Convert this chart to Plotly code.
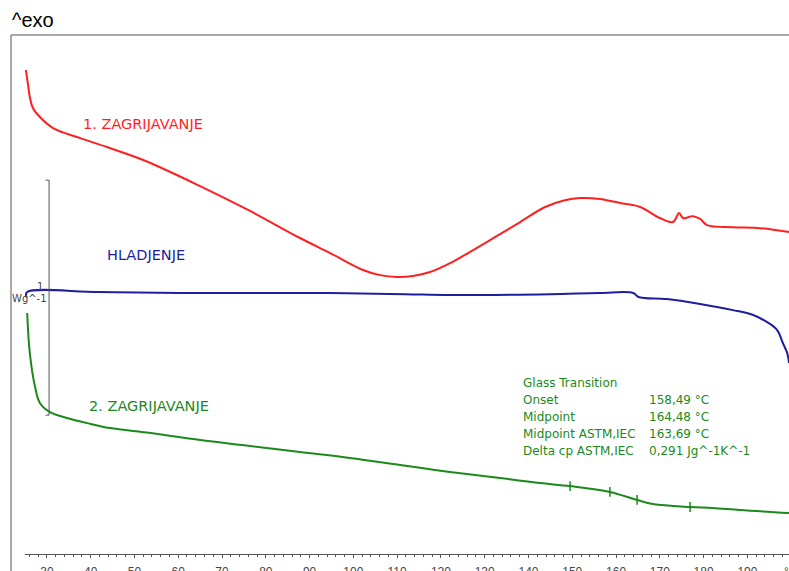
import plotly.graph_objects as go

# ---------------- data ----------------
# 1st heating (red): temperature °C, heat flow W/g (arbitrary offset)
heat1_T = [25.2, 25.7, 26.1, 26.8, 28.4, 31.4, 37.6, 43.7, 52.0, 65.0, 76.4, 87.8, 94.7,
           102.2, 106.1, 110.0, 113.6, 117.5, 122.1, 126.2, 131.2, 138.1, 143.8, 148.3, 151.8,
           156.3, 160.9, 165.5, 170.0, 173.0, 174.4, 175.3, 177.6, 179.2, 180.8, 186.7, 192.9, 199.5]
heat1_W = [2.060, 1.996, 1.945, 1.898, 1.860, 1.813, 1.770, 1.732, 1.677, 1.566, 1.460, 1.345,
           1.281, 1.209, 1.187, 1.179, 1.183, 1.200, 1.238, 1.281, 1.336, 1.413, 1.477,
           1.506, 1.515, 1.511, 1.494, 1.477, 1.430, 1.413, 1.451, 1.430, 1.438, 1.426, 1.400,
           1.391, 1.387, 1.370]

# cooling (blue)
cool_T = [25.2, 25.5, 41.7, 60.4, 94.7, 111.8, 122.1, 144.9, 156.3, 163.9, 165.1, 171.6,
          179.2, 186.7, 191.3, 194.5, 196.8, 198.1, 199.1, 199.5]
cool_W = [1.094, 1.115, 1.115, 1.111, 1.111, 1.106, 1.102, 1.106, 1.111, 1.111, 1.094, 1.085,
          1.064, 1.038, 1.017, 0.987, 0.953, 0.898, 0.855, 0.813]

# 2nd heating (green)
heat2_T = [25.5, 26.1, 27.3, 28.4, 30.7, 34.6, 39.2, 44.4, 53.6, 65.0, 76.4, 87.8, 99.2, 110.7,
           122.1, 133.5, 142.6, 149.5, 158.6, 164.8, 168.4, 176.9, 182.1, 188.3, 199.5]
heat2_W = [1.026, 0.855, 0.711, 0.643, 0.604, 0.579, 0.557, 0.536, 0.515, 0.485, 0.460, 0.434,
           0.409, 0.379, 0.349, 0.323, 0.302, 0.289, 0.264, 0.230, 0.213, 0.200, 0.196, 0.187,
           0.174]

# glass-transition evaluation markers on the 2nd heating curve
gt_mark_T = [149.5, 158.6, 164.8, 176.9]
gt_mark_W = [0.289, 0.264, 0.230, 0.200]

# scale bar: 1 W/g
scale_T = 30.5
scale_W = [0.591, 1.591]

x_major_ticks = [30, 40, 50, 60, 70, 80, 90, 100, 110, 120, 130, 140, 150, 160, 170, 180, 190]
x_range = [25, 199.5]
y_range = [0, 2.209]

gt_labels = ["Glass Transition", "Onset", "Midpoint", "Midpoint ASTM,IEC", "Delta cp ASTM,IEC"]
gt_values = ["", "158,49 °C", "164,48 °C", "163,69 °C", "0,291 Jg^-1K^-1"]

# ---------------- layout helpers ----------------
W, H = 789, 571
ML, MR, MT, MB = 25, 0, 35, 17
PW, PH = W - ML - MR, H - MT - MB


def px(x):
    """screen x pixel -> paper coordinate"""
    return (x - ML) / PW


def py(y):
    """screen y pixel -> paper coordinate"""
    return (H - MB - y) / PH


RED = "#ff1f1f"
BLUE = "#1e1e9e"
GREEN = "#1b8a1b"
TXT_FONT = "DejaVu Sans, Verdana, sans-serif"
AX_FONT = "Liberation Sans, Arial, sans-serif"

fig = go.Figure()
fig.add_trace(go.Scatter(x=heat1_T, y=heat1_W, mode="lines",
                         line=dict(color=RED, width=2), line_shape="spline"))
fig.add_trace(go.Scatter(x=cool_T, y=cool_W, mode="lines",
                         line=dict(color=BLUE, width=2), line_shape="spline"))
fig.add_trace(go.Scatter(x=heat2_T, y=heat2_W, mode="lines",
                         line=dict(color=GREEN, width=2), line_shape="spline"))
fig.add_trace(go.Scatter(x=gt_mark_T, y=gt_mark_W, mode="markers",
                         marker=dict(symbol="line-ns", size=7,
                                     line=dict(color=GREEN, width=1.5))))

shapes = [
    # frame (top and left)
    dict(type="line", xref="paper", yref="paper", x0=px(11), x1=px(800), y0=py(35), y1=py(35),
         line=dict(color="#8c8c8c", width=1.5)),
    dict(type="line", xref="paper", yref="paper", x0=px(11), x1=px(11), y0=py(35), y1=py(580),
         line=dict(color="#8c8c8c", width=1.5)),
    # scale bar
    dict(type="line", xref="x", yref="y", x0=scale_T, x1=scale_T, y0=scale_W[0], y1=scale_W[1],
         line=dict(color="#555555", width=1)),
    dict(type="line", xref="x", yref="y", x0=scale_T - 0.8, x1=scale_T, y0=scale_W[0], y1=scale_W[0],
         line=dict(color="#555555", width=1)),
    dict(type="line", xref="x", yref="y", x0=scale_T - 0.8, x1=scale_T, y0=scale_W[1], y1=scale_W[1],
         line=dict(color="#555555", width=1)),
]

ann = []


def text(x, y, s, color, size, font=TXT_FONT, anchor="left"):
    ann.append(dict(xref="paper", yref="paper", x=px(x), y=py(y), text=s, showarrow=False,
                    xanchor=anchor, yanchor="middle", font=dict(color=color, size=size, family=font)))


text(10, 20, "^exo", "#000000", 20, font=AX_FONT)
text(81, 124, "1. ZAGRIJAVANJE", RED, 14.5)
text(105, 255, "HLADJENJE", BLUE, 14.5)
text(87, 406, "2. ZAGRIJAVANJE", GREEN, 14.5)
text(40, 286, "1", "#444444", 10, anchor="center")
text(10, 298, "Wg^-1", "#444444", 10)
for i, (lab, val) in enumerate(zip(gt_labels, gt_values)):
    yy = 383 + 17 * i
    text(521, yy, lab, GREEN, 12)
    if val:
        text(647, yy, val, GREEN, 12)
ann.append(dict(xref="paper", yref="paper", x=px(791), y=0, yanchor="top", yshift=-9,
                xanchor="center", text="°C", showarrow=False,
                font=dict(color="#444444", size=12, family=AX_FONT)))

fig.update_layout(
    width=W, height=H,
    margin=dict(l=ML, r=MR, t=MT, b=MB, autoexpand=False),
    paper_bgcolor="white", plot_bgcolor="white",
    showlegend=False,
    shapes=shapes, annotations=ann,
    xaxis=dict(range=x_range, showgrid=False, zeroline=False, showline=True, automargin=False,
               linecolor="#555555", linewidth=1, ticks="outside", ticklen=3,
               tickcolor="#555555", tickvals=x_major_ticks, ticklabelstandoff=4,
               tickfont=dict(family=AX_FONT, size=12, color="#444444"),
               minor=dict(dtick=2, tick0=0, ticks="outside", ticklen=2, tickcolor="#555555")),
    yaxis=dict(range=y_range, visible=False, showgrid=False, zeroline=False, automargin=False),
)

# remove the browser's default body margin so the 789x571 figure fills the window exactly
fig.write_html("out.html", config={"displayModeBar": False},
               post_script="document.body.style.margin='0';document.body.style.overflow='hidden';")
